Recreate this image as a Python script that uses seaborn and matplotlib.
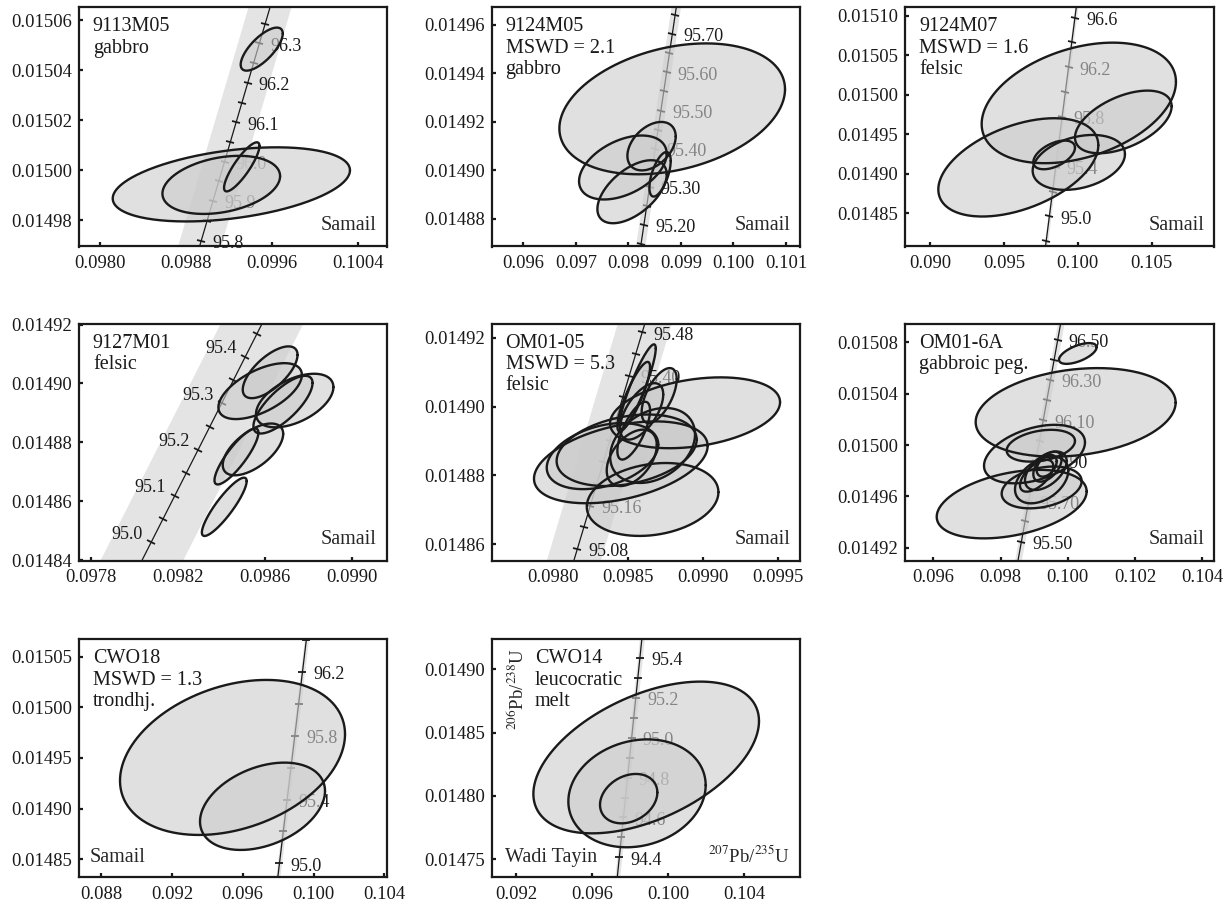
import numpy as np
import matplotlib
matplotlib.use("Agg")
import matplotlib.pyplot as plt
import seaborn as sns
from matplotlib.markers import MarkerStyle
from matplotlib.transforms import Affine2D

sns.set_theme(style="ticks")
plt.rcParams["font.family"] = ["Liberation Serif", "DejaVu Serif"]
plt.rcParams["mathtext.fontset"] = "stix"

# decay constants (per Ma)
L238 = 1.55125e-4
L235 = 9.8485e-4

# ---------------- data: 207Pb/235U, 2s, 206Pb/238U, 2s, rho ----------------
S1_X = [0.099506, 0.099223, 0.099129, 0.099320]
S1_SX = [0.000196, 0.001105, 0.000548, 0.000165]
S1_Y = [0.0150484, 0.0149944, 0.0149942, 0.0150014]
S1_SY = [0.0000086, 0.0000148, 0.0000116, 0.0000098]
S1_R = [0.72, 0.38, 0.30, 0.85]

S2_X = [0.098833, 0.098440, 0.097894, 0.098069, 0.098602]
S2_SX = [0.002148, 0.000460, 0.000834, 0.000660, 0.000203]
S2_Y = [0.0149254, 0.0149100, 0.0149012, 0.0148912, 0.0148984]
S2_SY = [0.0000270, 0.0000100, 0.0000132, 0.0000130, 0.0000092]
S2_R = [0.30, 0.40, 0.43, 0.55, 0.60]

S3_X = [0.100071, 0.103083, 0.095977, 0.100071, 0.098402]
S3_SX = [0.006575, 0.003271, 0.005414, 0.003124, 0.001410]
S3_Y = [0.0149898, 0.0149657, 0.0149081, 0.0149144, 0.0149239]
S3_SY = [0.0000764, 0.0000397, 0.0000623, 0.0000348, 0.0000182]
S3_R = [0.35, 0.50, 0.45, 0.30, 0.50]

S4_X = [0.098625, 0.098579, 0.098738, 0.098684, 0.098546, 0.098470, 0.098414]
S4_SX = [0.000126, 0.000192, 0.000178, 0.000136, 0.000139, 0.000101, 0.000103]
S4_Y = [0.0149038, 0.0148974, 0.0148942, 0.0148928, 0.0148776, 0.0148752, 0.0148581]
S4_SY = [0.0000088, 0.0000095, 0.0000091, 0.0000098, 0.0000088, 0.0000095, 0.0000099]
S4_R = [0.67, 0.58, 0.50, 0.75, 0.60, 0.85, 0.88]

S5_X = [0.098566, 0.098540, 0.098710, 0.098593, 0.098540, 0.098666, 0.098527, 0.098454, 0.098332, 0.098493,
        0.098666, 0.098949]
S5_SX = [0.000121, 0.000109, 0.000117, 0.000144, 0.000109, 0.000283, 0.000167, 0.000579, 0.000372, 0.000467,
         0.000439, 0.000567]
S5_Y = [0.0149057, 0.0149029, 0.0149032, 0.0148986, 0.0148930, 0.0148887, 0.0148851, 0.0148838, 0.0148856,
        0.0148873, 0.0148730, 0.0148982]
S5_SY = [0.0000124, 0.0000101, 0.0000080, 0.0000082, 0.0000084, 0.0000109, 0.0000082, 0.0000119, 0.0000096,
         0.0000104, 0.0000106, 0.0000103]
S5_R = [0.90, 0.85, 0.60, 0.60, 0.70, 0.30, 0.45, 0.40, 0.35, 0.30, 0.20, 0.30]

S6_X = [0.100297, 0.100233, 0.099009, 0.099197, 0.098330, 0.099222, 0.099222, 0.099346, 0.099395, 0.099371, 0.099073]
S6_SX = [0.000560, 0.002974, 0.001502, 0.001016, 0.002230, 0.001190, 0.000793, 0.000620, 0.000421, 0.000297, 0.000496]
S6_Y = [0.0150714, 0.0150255, 0.0149930, 0.0149995, 0.0149540, 0.0149670, 0.0149728, 0.0149800, 0.0149832,
        0.0149839, 0.0149761]
S6_SY = [0.0000081, 0.0000345, 0.0000228, 0.0000124, 0.0000267, 0.0000163, 0.0000182, 0.0000150, 0.0000117,
         0.0000085, 0.0000124]
S6_R = [0.60, 0.22, 0.40, 0.30, 0.37, 0.30, 0.40, 0.50, 0.50, 0.40, 0.60]

S7_X = [0.095426, 0.097120]
S7_SX = [0.006353, 0.003529]
S7_Y = [0.0149505, 0.0149023]
S7_SY = [0.0000765, 0.0000431]
S7_R = [0.30, 0.35]

S8_X = [0.098841, 0.098359, 0.097921]
S8_SX = [0.005930, 0.003609, 0.001507]
S8_Y = [0.0148304, 0.0148021, 0.0147979]
S8_SY = [0.0000599, 0.0000426, 0.0000195]
S8_R = [0.48, 0.15, 0.25]

NAMES = ["9113M05\ngabbro", "9124M05\nMSWD = 2.1\ngabbro", "9124M07\nMSWD = 1.6\nfelsic", "9127M01\nfelsic",
         "OM01-05\nMSWD = 5.3\nfelsic", "OM01-6A\ngabbroic peg.", "CWO18\nMSWD = 1.3\ntrondhj.",
         "CWO14\nleucocratic\nmelt"]

XTICKS = [[0.0980, 0.0988, 0.0996, 0.1004], [0.096, 0.097, 0.098, 0.099, 0.100, 0.101], [0.090, 0.095, 0.100, 0.105],
          [0.0978, 0.0982, 0.0986, 0.0990], [0.0980, 0.0985, 0.0990, 0.0995], [0.096, 0.098, 0.100, 0.102, 0.104],
          [0.088, 0.092, 0.096, 0.100, 0.104], [0.092, 0.096, 0.100, 0.104]]
XDEC = [4, 3, 3, 4, 4, 3, 3, 3]
YTICKS = [[0.01498, 0.01500, 0.01502, 0.01504, 0.01506], [0.01488, 0.01490, 0.01492, 0.01494, 0.01496],
          [0.01485, 0.01490, 0.01495, 0.01500, 0.01505, 0.01510], [0.01484, 0.01486, 0.01488, 0.01490, 0.01492],
          [0.01486, 0.01488, 0.01490, 0.01492], [0.01492, 0.01496, 0.01500, 0.01504, 0.01508],
          [0.01485, 0.01490, 0.01495, 0.01500, 0.01505], [0.01475, 0.01480, 0.01485, 0.01490]]

AGE_TICKS = [
    [95.75, 95.80, 95.85, 95.90, 95.95, 96.00, 96.05, 96.10, 96.15, 96.20, 96.25, 96.30, 96.35, 96.40],
    [95.10, 95.15, 95.20, 95.25, 95.30, 95.35, 95.40, 95.45, 95.50, 95.55, 95.60, 95.65, 95.70, 95.75, 95.80],
    [94.6, 94.8, 95.0, 95.2, 95.4, 95.6, 95.8, 96.0, 96.2, 96.4, 96.6, 96.8],
    [94.95, 95.00, 95.05, 95.10, 95.15, 95.20, 95.25, 95.30, 95.35, 95.40, 95.45, 95.50],
    [95.00, 95.04, 95.08, 95.12, 95.16, 95.20, 95.24, 95.28, 95.32, 95.36, 95.40, 95.44, 95.48, 95.52],
    [95.3, 95.4, 95.5, 95.6, 95.7, 95.8, 95.9, 96.0, 96.1, 96.2, 96.3, 96.4, 96.5, 96.6],
    [94.6, 94.8, 95.0, 95.2, 95.4, 95.6, 95.8, 96.0, 96.2, 96.4, 96.6, 96.8],
    [94.2, 94.3, 94.4, 94.5, 94.6, 94.7, 94.8, 94.9, 95.0, 95.1, 95.2, 95.3, 95.4, 95.5, 95.6],
]
AGE_LABELS = [
    [95.8, 95.9, 96.0, 96.1, 96.2, 96.3],
    [95.20, 95.30, 95.40, 95.50, 95.60, 95.70],
    [95.0, 95.4, 95.8, 96.2, 96.6],
    [95.0, 95.1, 95.2, 95.3, 95.4],
    [95.08, 95.16, 95.24, 95.32, 95.40, 95.48],
    [95.50, 95.70, 95.90, 96.10, 96.30, 96.50],
    [95.0, 95.4, 95.8, 96.2],
    [94.4, 94.6, 94.8, 95.0, 95.2, 95.4],
]
AGE_DEC = [1, 2, 1, 1, 2, 2, 1, 1]

# ---------------- layout / style ----------------
LIMS = [((0.097804, 0.100670), (0.0149696, 0.0150651)),
        ((0.095397, 0.101266), (0.0148686, 0.0149673)),
        ((0.088308, 0.109241), (0.0148078, 0.0151110)),
        ((0.097746, 0.099161), (0.0148398, 0.0149203)),
        ((0.097593, 0.099649), (0.0148552, 0.0149241)),
        ((0.095157, 0.104357), (0.0149099, 0.0150946)),
        ((0.086758, 0.104132), (0.0148322, 0.0150671)),
        ((0.090721, 0.106926), (0.0147358, 0.0149237))]
BAND = [0.00020, 0.00009, 0.00011, 0.00019, 0.00018, 0.00010, 0.00012, 0.00013]

SAMPLES = [(S1_X, S1_SX, S1_Y, S1_SY, S1_R), (S2_X, S2_SX, S2_Y, S2_SY, S2_R), (S3_X, S3_SX, S3_Y, S3_SY, S3_R),
           (S4_X, S4_SX, S4_Y, S4_SY, S4_R), (S5_X, S5_SX, S5_Y, S5_SY, S5_R), (S6_X, S6_SX, S6_Y, S6_SY, S6_R),
           (S7_X, S7_SX, S7_Y, S7_SY, S7_R), (S8_X, S8_SX, S8_Y, S8_SY, S8_R)]

fig = plt.figure(figsize=(12.3, 9.1), dpi=100)
cols = [(79, 386.7), (491.7, 800), (905, 1214.3)]
rows = [(7.3, 246.5), (323.7, 560.7), (639.3, 877.3)]
FS_TICK = 13.4
FS_TXT = 14.5
FS_AGE = 13

for i in range(8):
    c0, c1 = cols[i % 3]
    r0, r1 = rows[i // 3]
    ax = fig.add_axes([c0 / 1230, 1 - r1 / 910, (c1 - c0) / 1230, (r1 - r0) / 910])
    xl, yl = LIMS[i]
    for s in ax.spines.values():
        s.set_linewidth(1.6)
        s.set_color("k")
    ax.tick_params(direction="in", length=3, width=1.6, labelsize=FS_TICK, colors="k", pad=6)
    ax.tick_params(axis="y", pad=5)
    ax.set_xticks(XTICKS[i])
    ax.set_xticklabels([f"{v:.{XDEC[i]}f}" for v in XTICKS[i]])
    ax.set_yticks(YTICKS[i])
    ax.set_yticklabels([f"{v:.5f}" for v in YTICKS[i]])
    ax.set_xlim(xl)
    ax.set_ylim(yl)

    # concordia curve with decay-constant error band
    t = np.linspace(94.0, 97.0, 600)
    xc = np.exp(L235 * t) - 1
    yc = np.exp(L238 * t) - 1
    ax.fill_betweenx(yc, xc - BAND[i], xc + BAND[i], color="#e4e4e4", lw=0, zorder=1)
    sns.lineplot(x=xc, y=yc, ax=ax, color="k", lw=0.9, sort=False, estimator=None, zorder=2)

    ta = np.array(AGE_TICKS[i])
    xa = np.exp(L235 * ta) - 1
    ya = np.exp(L238 * ta) - 1
    p1 = ax.transData.transform(np.c_[xa, ya])
    p2 = ax.transData.transform(np.c_[np.exp(L235 * (ta + 0.01)) - 1, np.exp(L238 * (ta + 0.01)) - 1])
    ang = np.degrees(np.arctan2(p2[:, 1] - p1[:, 1], p2[:, 0] - p1[:, 0]))
    for xx, yy, a in zip(xa, ya, ang):
        m = MarkerStyle("_", transform=Affine2D().rotate_deg(a + 90))
        ax.plot([xx], [yy], marker=m, ms=6, mew=1.3, color="k", zorder=2)
    for ag in AGE_LABELS[i]:
        xx = np.exp(L235 * ag) - 1
        yy = np.exp(L238 * ag) - 1
        if i == 3:
            off, ha = (-6, 6), "right"
        else:
            off, ha = (8, -2), "left"
        ax.annotate(f"{ag:.{AGE_DEC[i]}f}", (xx, yy), xytext=off, textcoords="offset points",
                    ha=ha, va="center", fontsize=FS_AGE, color="k", zorder=3)

    # error ellipses
    xs, sxs, ys, sys_, rs = SAMPLES[i]
    th = np.linspace(0, 2 * np.pi, 240)
    curves = []
    for x, sx, y, sy, r in zip(xs, sxs, ys, sys_, rs):
        X = x + sx * np.cos(th)
        Y = y + sy * (r * np.cos(th) + np.sqrt(1 - r * r) * np.sin(th))
        curves.append((X, Y))
        ax.fill(X, Y, facecolor=(0.8, 0.8, 0.8, 0.6), edgecolor="none", zorder=4)
    for X, Y in curves:
        ax.plot(X, Y, color="k", lw=1.7, zorder=5)

    tx = 0.14 if i == 7 else 0.045
    ax.text(tx, 0.958, NAMES[i], transform=ax.transAxes, ha="left", va="top", fontsize=FS_TXT,
            linespacing=1.17, zorder=6, color="k")
    if i == 6:
        ax.text(0.036, 0.063, "Samail", transform=ax.transAxes, ha="left", va="baseline",
                fontsize=FS_TXT, zorder=6)
    elif i == 7:
        ax.text(0.042, 0.066, "Wadi Tayin", transform=ax.transAxes, ha="left", va="baseline",
                fontsize=FS_TXT, zorder=6)
        ax.text(0.968, 0.066, r"$^{207}$Pb/$^{235}$U", transform=ax.transAxes, ha="right", va="baseline",
                fontsize=13.5, zorder=6)
        ax.text(0.081, 0.965, r"$^{206}$Pb/$^{238}$U", transform=ax.transAxes, ha="center", va="top",
                rotation=90, fontsize=13.5, zorder=6)
    else:
        ax.text(0.968, 0.07, "Samail", transform=ax.transAxes, ha="right", va="baseline",
                fontsize=FS_TXT, zorder=6)

fig.savefig("out.png", dpi=100)
